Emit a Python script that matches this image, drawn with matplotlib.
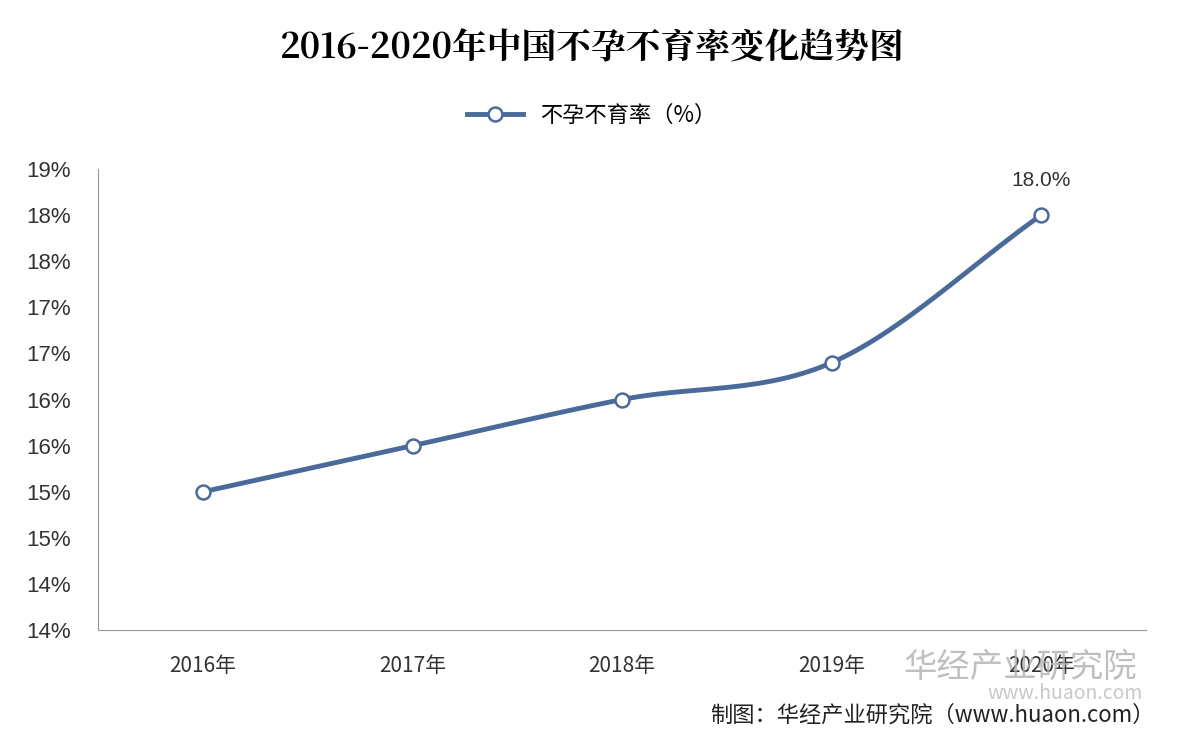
import matplotlib
matplotlib.use("Agg")
import matplotlib.pyplot as plt
import numpy as np
import math

plt.rcParams['font.family'] = ['Noto Sans CJK SC', 'DejaVu Sans']

years = ["2016年", "2017年", "2018年", "2019年", "2020年"]
rates = [15.0, 15.5, 16.0, 16.4, 18.0]
yticks = [13.5, 14, 14.5, 15, 15.5, 16, 16.5, 17, 17.5, 18, 18.5]

fig = plt.figure(figsize=(11.84, 7.44), dpi=100)
ax = fig.add_axes([0.083, 0.153, 0.885, 0.62])
x = np.arange(len(years))
y = np.array(rates)

def smooth(x, y, n=30):
    px = np.concatenate([[2*x[0]-x[1]], x, [2*x[-1]-x[-2]]])
    py = np.concatenate([[2*y[0]-y[1]], y, [2*y[-1]-y[-2]]])
    xs, ys = [], []
    for i in range(1, len(px)-2):
        t = np.linspace(0, 1, n)
        for P, out in ((px, xs), (py, ys)):
            p0, p1, p2, p3 = P[i-1], P[i], P[i+1], P[i+2]
            out.extend(0.5*((2*p1) + (-p0+p2)*t + (2*p0-5*p1+4*p2-p3)*t**2 + (-p0+3*p1-3*p2+p3)*t**3))
    return np.array(xs), np.array(ys)

sx, sy = smooth(x, y)
col = '#4a6a9a'
ax.plot(sx, sy, color=col, lw=3.5, zorder=2)
ax.plot(x, y, 'o', ms=10, mfc='white', mec=col, mew=1.8, zorder=3)
ax.plot([], [], '-o', color=col, lw=3.5, ms=10, mfc='white', mec=col, mew=1.8, label='不孕不育率（%）')
ax.annotate(f"{rates[-1]:.1f}%", (x[-1], y[-1]), xytext=(0, 18), textcoords='offset points',
            ha='center', va='bottom', fontsize=15, color='#333333', family=['Liberation Sans'])

ax.set_xlim(-0.5, 4.5)
ax.set_ylim(13.5, 18.5)
ax.set_yticks(yticks)
ax.set_yticklabels([f"{math.floor(v+0.5)}%" for v in yticks], fontsize=16, color='#333333', family=['Liberation Sans'])
ax.set_xticks(x)
ax.set_xticklabels(years, fontsize=15, color='#333333')
ax.tick_params(axis='y', length=0, pad=20)
ax.tick_params(axis='x', length=0, pad=18)
for s in ['top', 'right']:
    ax.spines[s].set_visible(False)
ax.spines['left'].set_color('#999999')
ax.spines['bottom'].set_color('#999999')

fig.text(0.5, 0.935, "2016-2020年中国不孕不育率变化趋势图", ha='center', va='center',
         fontsize=25, fontweight='bold', family=['Noto Serif CJK SC', 'Noto Sans CJK SC', 'DejaVu Sans'])
fig.legend(loc='center', bbox_to_anchor=(0.5, 0.845), frameon=False, fontsize=16, handlelength=2.5)
fig.text(0.96, 0.09, "华经产业研究院", ha='right', fontsize=24, color='#b0b0b0', alpha=0.8)
fig.text(0.965, 0.06, "www.huaon.com", ha='right', fontsize=14, color='#c8c8c8')
fig.text(0.975, 0.03, "制图：华经产业研究院（www.huaon.com）", ha='right', fontsize=16, color='#222222')
fig.savefig("out.png", dpi=100)
